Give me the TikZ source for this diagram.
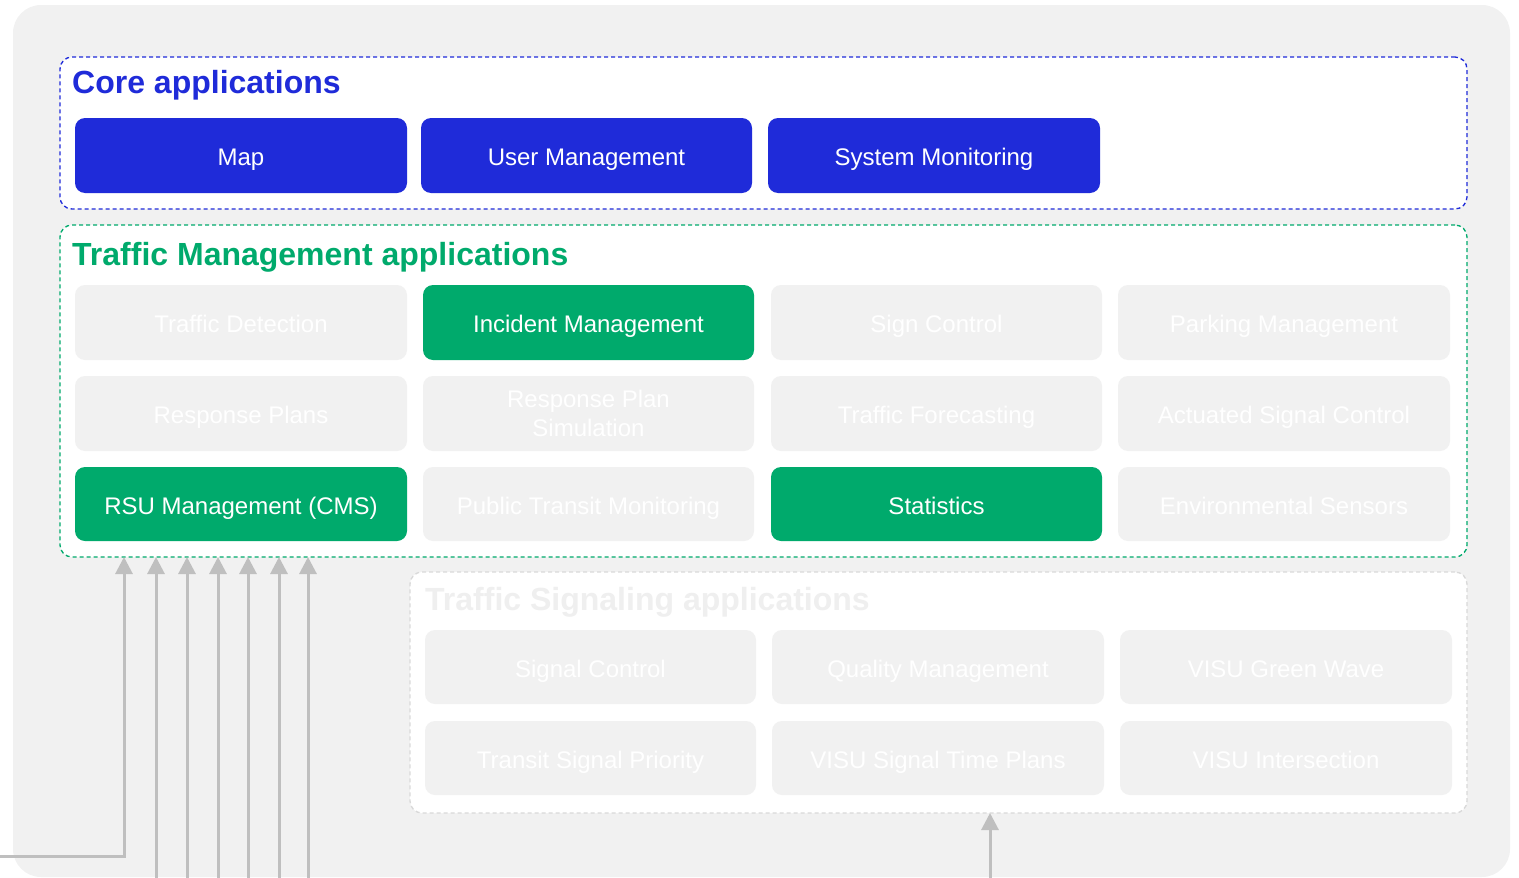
\documentclass[tikz,border=0pt]{standalone}
\usepackage{fontspec}
\setmainfont{Liberation Sans}
\usetikzlibrary{arrows.meta}
\definecolor{bggray}{HTML}{F1F1F1}
\definecolor{coreblue}{HTML}{1F2BD9}
\definecolor{tmgreen}{HTML}{00AA6C}
\definecolor{arrgray}{HTML}{BFBFBF}
\definecolor{faintline}{HTML}{D9D9D9}
\definecolor{fainttext}{HTML}{EFEFEF}
\begin{document}
\begin{tikzpicture}[x=1pt,y=-1pt,
 appbox/.style={rounded corners=10pt, minimum width=332pt, minimum height=75pt, inner sep=0pt, outer sep=0pt, text=white, font=\fontsize{24}{28.5}\selectfont, align=center, text height=20pt, text depth=0pt},
 blueapp/.style={appbox, fill=coreblue},
 greenapp/.style={appbox, fill=tmgreen},
 fadedapp/.style={appbox, fill=bggray},
 group/.style={rounded corners=12pt, fill=white, dash pattern=on 4pt off 3pt, line width=1.3pt, inner sep=0pt, outer sep=0pt},
 grouptitle/.style={anchor=base west, inner sep=0pt, font=\fontsize{32}{36}\selectfont\bfseries},
 arr/.style={draw=arrgray, line width=3pt, -{Triangle[length=17pt,width=17pt]}}]
\useasboundingbox (0,0) rectangle (1519,878);
\fill[bggray, rounded corners=28pt] (13,5) rectangle (1510,877);

% groups
\node[group, draw=coreblue, minimum width=1407pt, minimum height=152pt] (core) at (763.5,133) {};
\node[group, draw=tmgreen, minimum width=1407pt, minimum height=332pt] (tm) at (763.5,391) {};
\node[group, draw=faintline, minimum width=1057pt, minimum height=241pt] (ts) at (938.5,692.5) {};

\node[grouptitle, text=coreblue] (coretitle) at (72,93) {Core applications};
\node[grouptitle, text=tmgreen] (tmtitle) at (72,265) {Traffic Management applications};
\node[grouptitle, text=fainttext] (tstitle) at (425,610) {Traffic Signaling applications};

% core apps
\node[blueapp] (map) at (241,155.5) {Map};
\node[blueapp, minimum width=331pt] (user) at (586.5,155.5) {User Management};
\node[blueapp] (sysmon) at (934,155.5) {System Monitoring};

% traffic management apps
\node[fadedapp] (tdet) at (241,322.5) {Traffic Detection};
\node[greenapp, minimum width=331pt] (incident) at (588.5,322.5) {Incident Management};
\node[fadedapp, minimum width=331pt] (sign) at (936.5,322.5) {Sign Control};
\node[fadedapp] (parking) at (1284,322.5) {Parking Management};

\node[fadedapp] (rplans) at (241,413.5) {Response Plans};
\node[fadedapp, minimum width=331pt, text height=, text depth=] (rpsim) at (588.5,413.5) {Response Plan\\Simulation};
\node[fadedapp, minimum width=331pt] (forecast) at (936.5,413.5) {Traffic Forecasting};
\node[fadedapp] (actuated) at (1284,413.5) {Actuated Signal Control};

\node[greenapp, minimum height=74pt] (rsu) at (241,504) {RSU Management (CMS)};
\node[fadedapp, minimum width=331pt, minimum height=74pt] (ptm) at (588.5,504) {Public Transit Monitoring};
\node[greenapp, minimum width=331pt, minimum height=74pt] (stats) at (936.5,504) {Statistics};
\node[fadedapp, minimum height=74pt] (env) at (1284,504) {Environmental Sensors};

% traffic signaling apps
\node[fadedapp, minimum width=331pt, minimum height=74pt] (sigctl) at (590.5,667) {Signal Control};
\node[fadedapp, minimum height=74pt] (quality) at (938,667) {Quality Management};
\node[fadedapp, minimum height=74pt] (green) at (1286,667) {VISU Green Wave};
\node[fadedapp, minimum width=331pt, minimum height=74pt] (tsp) at (590.5,758) {Transit Signal Priority};
\node[fadedapp, minimum height=74pt] (plans) at (938,758) {VISU Signal Time Plans};
\node[fadedapp, minimum height=74pt] (inter) at (1286,758) {VISU Intersection};

% connectors
\coordinate (in1) at (0,856);
\coordinate (b1) at (124,878);
\coordinate (b2) at (156,878);
\coordinate (b3) at (187,878);
\coordinate (b4) at (218,878);
\coordinate (b5) at (248,878);
\coordinate (b6) at (279,878);
\coordinate (b7) at (308,878);
\coordinate (b8) at (990,878);
\draw[arr] (in1) -| (b1 |- tm.south);
\foreach \b in {b2,b3,b4,b5,b6,b7}
  \draw[arr] (\b) -- (\b |- tm.south);
\draw[arr] (b8) -- (b8 |- ts.south);
\end{tikzpicture}
\end{document}
